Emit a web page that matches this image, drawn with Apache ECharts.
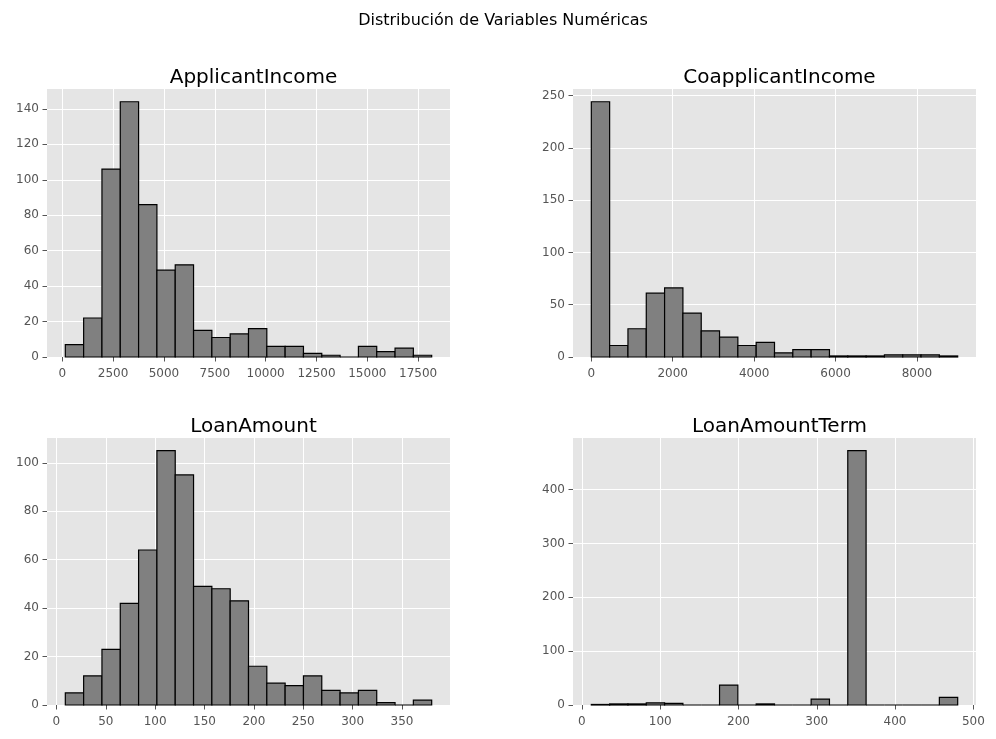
<!DOCTYPE html>
<html>
<head>
<meta charset="utf-8">
<script src="https://cdn.jsdelivr.net/npm/echarts@6.0.0/dist/echarts.min.js"></script>
<style>
  html, body { margin: 0; padding: 0; background: #fff; }
  #main { width: 996px; height: 739px; }
</style>
</head>
<body>
<div id="main"></div>
<script>
// counts per bin (20 bins each)
var applicantIncome = [7, 22, 106, 144, 86, 49, 52, 15, 11, 13, 16, 6, 6, 2, 1, 0, 6, 3, 5, 1];
var coapplicantIncome = [244, 11, 27, 61, 66, 42, 25, 19, 11, 14, 4, 7, 7, 1, 1, 1, 2, 2, 2, 1];
var loanAmount = [5, 12, 23, 42, 64, 105, 95, 49, 48, 43, 16, 9, 8, 12, 6, 5, 6, 1, 0, 2];
var loanAmountTerm = [1, 2, 2, 4, 3, 0, 0, 37, 0, 2, 0, 0, 11, 0, 472, 0, 0, 0, 0, 14];

// data range (min, max) of every variable
var applicantRange = [150, 18165];
var coapplicantRange = [0, 9000];
var loanAmountRange = [9, 380];
var loanTermRange = [12, 480];

// tick labels
var applicantXTicks = [0, 2500, 5000, 7500, 10000, 12500, 15000, 17500];
var applicantYTicks = [0, 20, 40, 60, 80, 100, 120, 140];
var coapplicantXTicks = [0, 2000, 4000, 6000, 8000];
var coapplicantYTicks = [0, 50, 100, 150, 200, 250];
var loanAmountXTicks = [0, 50, 100, 150, 200, 250, 300, 350];
var loanAmountYTicks = [0, 20, 40, 60, 80, 100];
var loanTermXTicks = [0, 100, 200, 300, 400, 500];
var loanTermYTicks = [0, 100, 200, 300, 400];

var panels = [
    { name: 'ApplicantIncome', counts: applicantIncome, range: applicantRange, xt: applicantXTicks, yt: applicantYTicks,
      grid: { left: 47, top: 89, width: 403, height: 268 } },
    { name: 'CoapplicantIncome', counts: coapplicantIncome, range: coapplicantRange, xt: coapplicantXTicks, yt: coapplicantYTicks,
      grid: { left: 573, top: 89, width: 403, height: 268 } },
    { name: 'LoanAmount', counts: loanAmount, range: loanAmountRange, xt: loanAmountXTicks, yt: loanAmountYTicks,
      grid: { left: 47, top: 438, width: 403, height: 267 } },
    { name: 'LoanAmountTerm', counts: loanAmountTerm, range: loanTermRange, xt: loanTermXTicks, yt: loanTermYTicks,
      grid: { left: 573, top: 438, width: 403, height: 267 } }
];

var FONT = 'DejaVu Sans';
var tickColor = '#555555';

function plain(v) { return String(v); }

var option = {
    backgroundColor: '#ffffff',
    animation: false,
    title: [{
        text: 'Distribución de Variables Numéricas',
        left: 498, top: 8, textAlign: 'center',
        textStyle: { fontFamily: FONT, fontSize: 16, fontWeight: 'normal', color: '#000' }
    }],
    grid: [], xAxis: [], yAxis: [], series: []
};

panels.forEach(function (p, i) {
    var lo = p.range[0], hi = p.range[1];
    var w = (hi - lo) / p.counts.length;
    var pad = (hi - lo) * 0.05;
    var bins = p.counts.map(function (c, k) {
        return [lo + k * w, lo + (k + 1) * w, c];
    });
    var ymax = Math.max.apply(null, p.counts) * 1.05;

    option.title.push({
        text: p.name,
        left: p.grid.left + p.grid.width / 2, top: p.grid.top - 26, textAlign: 'center',
        textStyle: { fontFamily: FONT, fontSize: 20, fontWeight: 'normal', color: '#000' }
    });
    option.grid.push({
        left: p.grid.left, top: p.grid.top, width: p.grid.width, height: p.grid.height,
        show: true, backgroundColor: '#E5E5E5', borderWidth: 0
    });
    option.xAxis.push({
        type: 'value', gridIndex: i, min: lo - pad, max: hi + pad,
        axisLine: { show: false, onZero: false },
        axisTick: { show: true, length: 4.5, lineStyle: { color: tickColor, width: 1 }, customValues: p.xt },
        axisLabel: { customValues: p.xt, formatter: plain, margin: 11, color: tickColor, fontFamily: FONT, fontSize: 12 },
        splitLine: { show: true, lineStyle: { color: '#ffffff', width: 1 } }
    });
    option.yAxis.push({
        type: 'value', gridIndex: i, min: 0, max: ymax,
        axisLine: { show: false, onZero: false },
        axisTick: { show: true, length: 4.5, lineStyle: { color: tickColor, width: 1 }, customValues: p.yt },
        axisLabel: { customValues: p.yt, formatter: plain, margin: 8, color: tickColor, fontFamily: FONT, fontSize: 12 },
        splitLine: { show: true, lineStyle: { color: '#ffffff', width: 1 } }
    });
    option.series.push({
        type: 'custom', xAxisIndex: i, yAxisIndex: i,
        data: bins,
        renderItem: function (params, api) {
            var a = api.coord([api.value(0), api.value(2)]);
            var b = api.coord([api.value(1), 0]);
            return {
                type: 'rect',
                shape: { x: a[0], y: a[1], width: b[0] - a[0], height: b[1] - a[1] },
                style: { fill: '#808080', stroke: '#000000', lineWidth: 1.2 }
            };
        }
    });
});

var chart = echarts.init(document.getElementById('main'));
chart.setOption(option);
</script>
</body>
</html>
